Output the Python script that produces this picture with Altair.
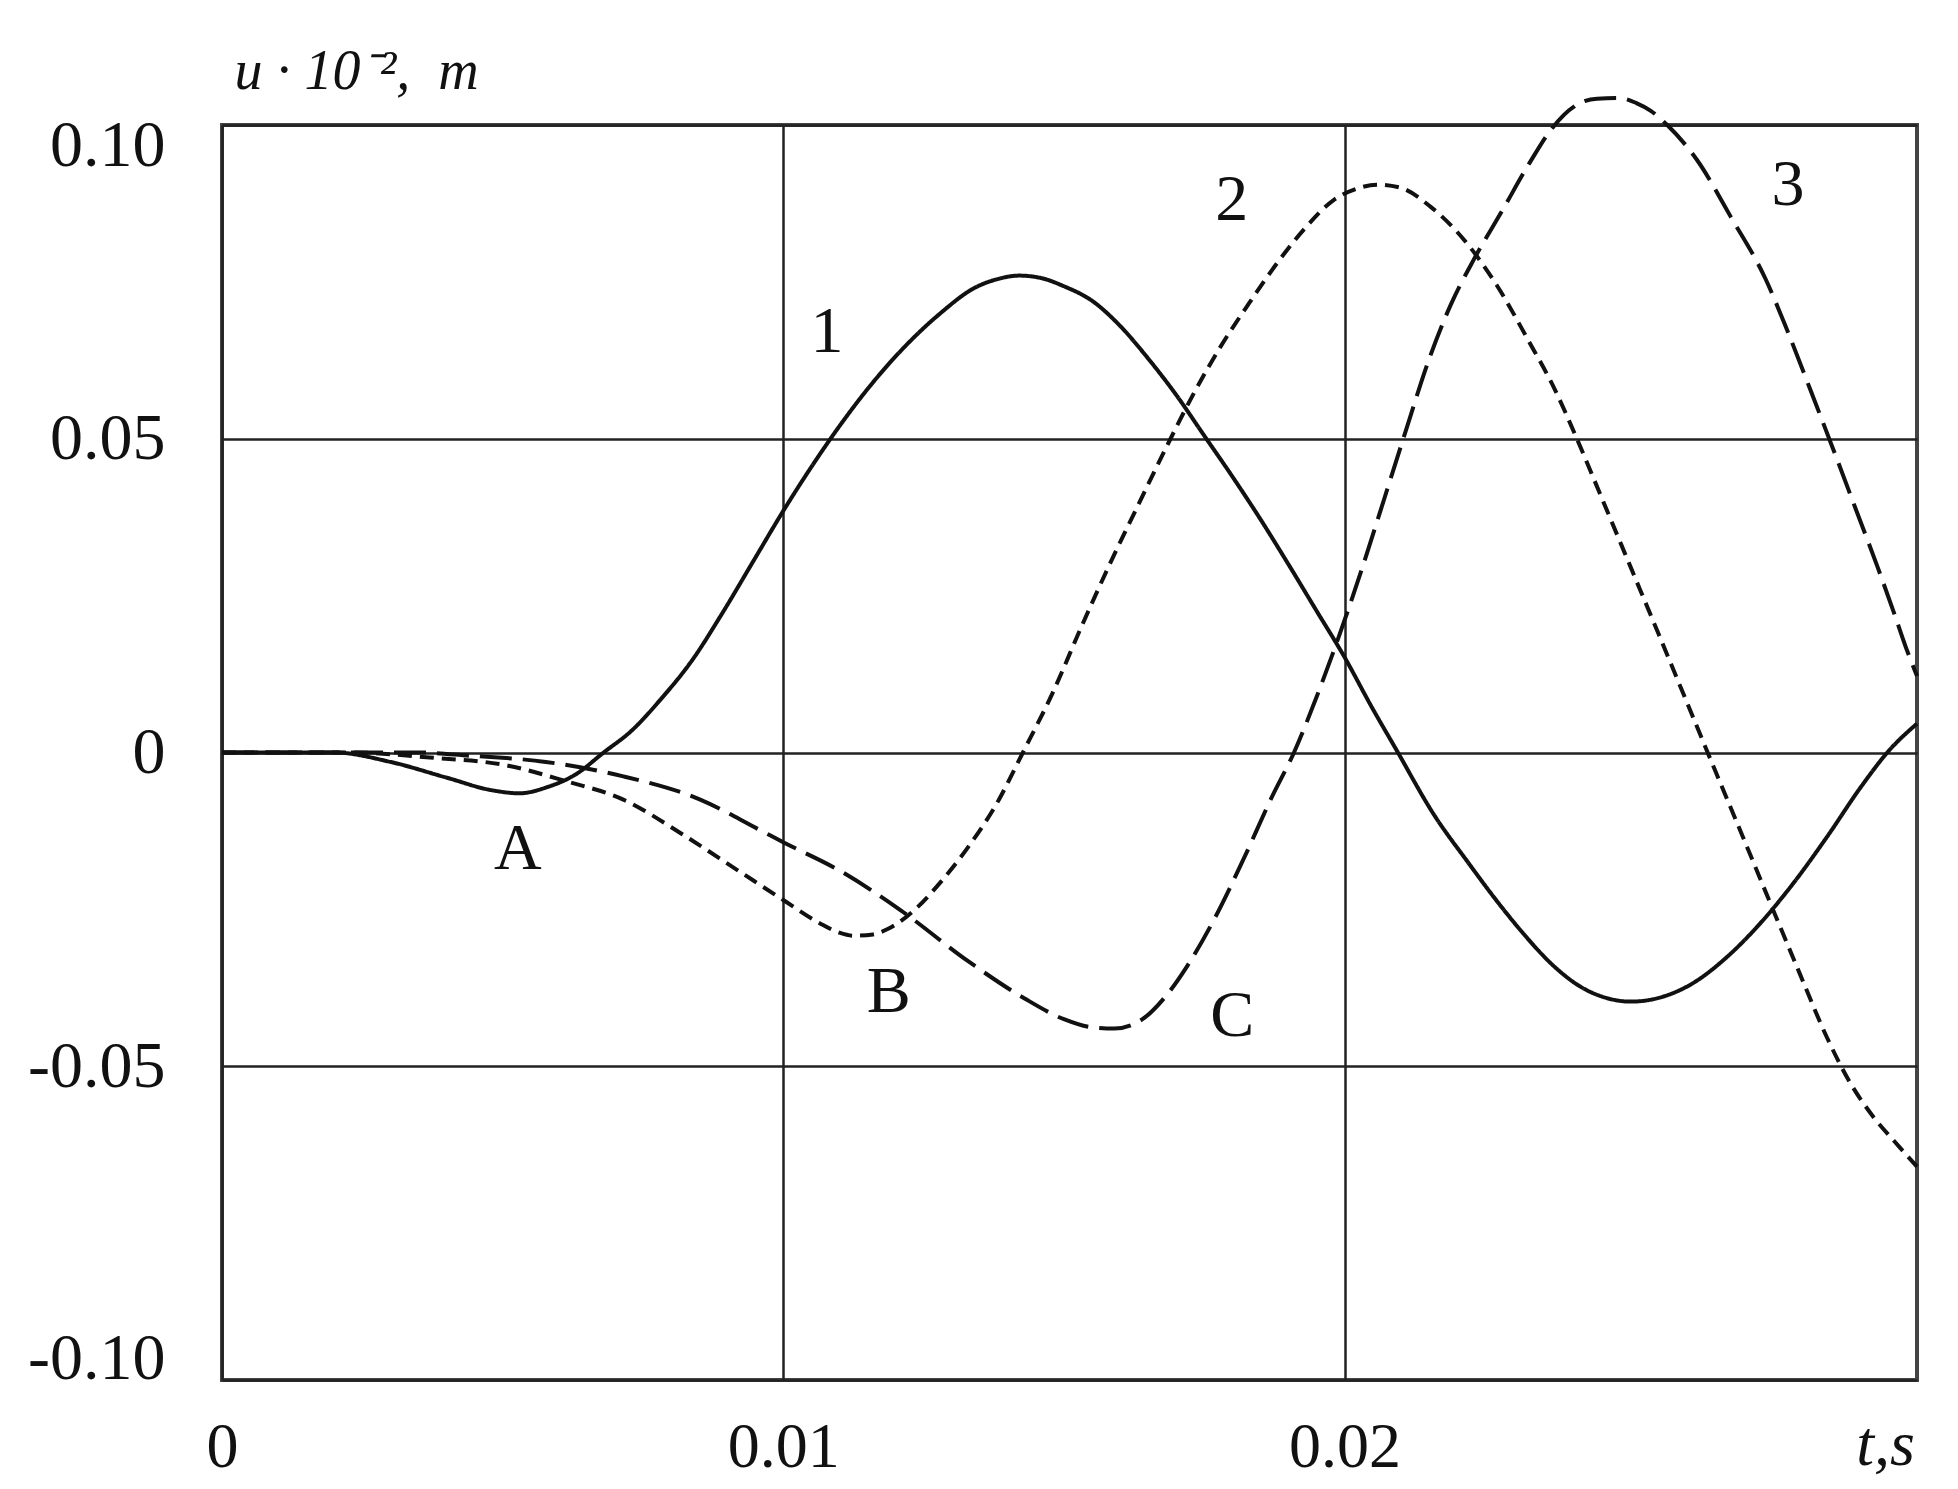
import altair as alt
import pandas as pd

# Curve 1 (solid)
t1 = [0.0, 0.0010, 0.0020, 0.0030, 0.0040, 0.0048, 0.0053, 0.0058, 0.0063, 0.0068,
      0.0073, 0.0078, 0.0084, 0.0089, 0.0095, 0.0100, 0.0105, 0.0110, 0.0116, 0.0122,
      0.0128, 0.0134, 0.0138, 0.0142, 0.0146, 0.0150, 0.0155, 0.0160, 0.0165, 0.0170,
      0.0175, 0.0180, 0.0185, 0.0190, 0.0195, 0.0200, 0.0205, 0.0209, 0.0216, 0.0222,
      0.0227, 0.0232, 0.0237, 0.0242, 0.0247, 0.0251, 0.0256, 0.0262, 0.0268, 0.0274,
      0.0280, 0.0286, 0.0292, 0.0297, 0.0302]
u1 = [0.0, 0.0, 0.0, -0.0015, -0.0040, -0.0060, -0.0065, -0.0055, -0.0035, 0.0,
      0.0035, 0.0083, 0.0150, 0.0220, 0.0310, 0.0385, 0.0455, 0.0520, 0.0590, 0.0650,
      0.0700, 0.0740, 0.0754, 0.0760, 0.0756, 0.0743, 0.0720, 0.0680, 0.0628, 0.0570,
      0.0505, 0.0440, 0.0372, 0.0300, 0.0226, 0.0152, 0.0070, 0.0008, -0.0100, -0.0175,
      -0.0235, -0.0290, -0.0338, -0.0373, -0.0392, -0.0397, -0.0391, -0.0368, -0.0327, -0.0273,
      -0.0208, -0.0134, -0.0055, 0.0003, 0.0046]

# Curve 2 (short dash, minimum B)
t2 = [0.0, 0.0023, 0.0037, 0.0051, 0.0061, 0.00715, 0.00818, 0.00921, 0.0100, 0.01065,
      0.0110, 0.01126, 0.0116, 0.01187, 0.01235, 0.0128, 0.0133, 0.0138, 0.01427, 0.0148,
      0.0153, 0.0158, 0.0163, 0.0168, 0.0173, 0.0178, 0.0183, 0.0188, 0.0193, 0.0198,
      0.0202, 0.0206, 0.0210, 0.02153, 0.02212, 0.02271, 0.02328, 0.02375, 0.02414, 0.0246,
      0.0251, 0.0256, 0.0261, 0.0266, 0.0271, 0.0276, 0.0281, 0.0286, 0.0290, 0.0294,
      0.0298, 0.0302]
u2 = [0.0, 0.0, -0.0008, -0.0021, -0.0045, -0.0075, -0.0129, -0.0189, -0.0235, -0.0272,
      -0.0287, -0.0292, -0.0290, -0.0281, -0.0250, -0.0207, -0.0150, -0.0082, 0.0, 0.0095,
      0.0198, 0.0297, 0.0390, 0.0482, 0.0570, 0.0648, 0.0716, 0.0780, 0.0836, 0.0880,
      0.0898, 0.0905, 0.0900, 0.0870, 0.0818, 0.0745, 0.0656, 0.0578, 0.0500, 0.0402,
      0.0295, 0.0188, 0.0080, -0.0028, -0.0135, -0.0243, -0.0350, -0.0455, -0.0525, -0.0578,
      -0.0620, -0.0660]

# Curve 3 (long dash, minimum C)
t3 = [0.0, 0.0035, 0.0044, 0.00577, 0.00715, 0.00852, 0.00955, 0.0100, 0.0110, 0.0121,
      0.0133, 0.0143, 0.0150, 0.0155, 0.0159, 0.0164, 0.0168, 0.0172, 0.0177, 0.0182,
      0.0187, 0.0191, 0.0195, 0.0199, 0.0203, 0.0207, 0.0211, 0.0215, 0.0219, 0.0223,
      0.0228, 0.0233, 0.0237, 0.0241, 0.0245, 0.0249, 0.0252, 0.02545, 0.02575, 0.02629,
      0.02688, 0.0275, 0.0279, 0.0283, 0.0287, 0.0291, 0.0295, 0.0298, 0.0300, 0.0302]
u3 = [0.0, 0.0, -0.0005, -0.0015, -0.0038, -0.0075, -0.0122, -0.0143, -0.0188, -0.0252,
      -0.0333, -0.0392, -0.0425, -0.0438, -0.0440, -0.0425, -0.0390, -0.0340, -0.0262, -0.0170,
      -0.0072, 0.0, 0.0088, 0.0185, 0.0290, 0.0402, 0.0515, 0.0625, 0.0715, 0.0785,
      0.0862, 0.0940, 0.0995, 0.1030, 0.1042, 0.1043, 0.1035, 0.1023, 0.1000, 0.0943,
      0.0854, 0.0755, 0.0670, 0.0578, 0.0485, 0.0390, 0.0295, 0.0220, 0.0168, 0.0122]

# Curve labels
lab_text = ["1", "2", "3", "A", "B", "C"]
lab_t = [0.01078, 0.01799, 0.0279, 0.00527, 0.01188, 0.0180]
lab_u = [0.0670, 0.0881, 0.0905, -0.0154, -0.0381, -0.0420]

x_ticks = [0.0, 0.01, 0.02]
y_ticks = [-0.10, -0.05, 0.0, 0.05, 0.10]

rows = []
for name, ts, us in [("1", t1, u1), ("2", t2, u2), ("3", t3, u3)]:
    for t, u in zip(ts, us):
        rows.append({"curve": name, "t": t, "u": u})
df = pd.DataFrame(rows)
lab_df = pd.DataFrame({"label": lab_text, "t": lab_t, "u": lab_u})

FONT = "Liberation Serif"
NB = "\u00a0"
x_scale = alt.Scale(domain=[0, 0.0302], nice=False, zero=False)
y_scale = alt.Scale(domain=[-0.10, 0.10], nice=False)

x_axis = alt.Axis(
    values=x_ticks,
    labelExpr="datum.value == 0 ? '0' : format(datum.value, '.2f')",
    grid=True, gridColor="#222222", gridWidth=2.5, gridOpacity=1,
    ticks=False, domain=False,
    labelFont=FONT, labelFontSize=64, labelColor="#111111",
    labelPadding=35, labelFlush=False,
    title="t,s", titleFont=FONT, titleFontStyle="italic", titleFontWeight="normal",
    titleFontSize=64, titleColor="#111111",
    titleX=1663, titleY=84, titleAlign="center", titleBaseline="alphabetic",
)
y_axis = alt.Axis(
    values=y_ticks,
    labelExpr="datum.value == 0 ? '0' : (datum.value < 0 ? '-' : '') + format(abs(datum.value), '.2f')",
    grid=True, gridColor="#222222", gridWidth=2.5, gridOpacity=1,
    ticks=False, domain=False,
    labelFont=FONT, labelFontSize=66, labelColor="#111111",
    labelPadding=57, labelFlush=True, labelFlushOffset=12,
    title="u" + NB + "·" + NB + "10⁻²," + NB + NB + "m",
    titleFont=FONT, titleFontStyle="italic", titleFontWeight="normal",
    titleFontSize=56, titleColor="#111111", titleAngle=0,
    titleX=12, titleY=-37, titleAlign="left", titleBaseline="alphabetic",
)

lines = alt.Chart(df).mark_line(strokeWidth=4, color="#111111", interpolate="monotone").encode(
    x=alt.X("t:Q", scale=x_scale, axis=x_axis),
    y=alt.Y("u:Q", scale=y_scale, axis=y_axis),
    detail="curve:N",
    strokeDash=alt.StrokeDash("curve:N", scale=alt.Scale(domain=["1", "2", "3"], range=[[1, 0], [14, 8], [32, 11]]), legend=None),
)

labels = alt.Chart(lab_df).mark_text(font=FONT, fontSize=66, color="#111111", baseline="middle", align="center").encode(
    x=alt.X("t:Q", scale=x_scale, axis=x_axis),
    y=alt.Y("u:Q", scale=y_scale, axis=y_axis),
    text="label:N",
)

chart = alt.layer(lines, labels).properties(
    width=1695, height=1255,
    autosize=alt.AutoSizeParams(type="none"),
    padding={"left": 214, "top": 117, "right": 33, "bottom": 101},
    background="white",
).configure_view(stroke="#444444", strokeWidth=4)

chart.save("out.html", embed_options={"renderer": "svg", "actions": False})
